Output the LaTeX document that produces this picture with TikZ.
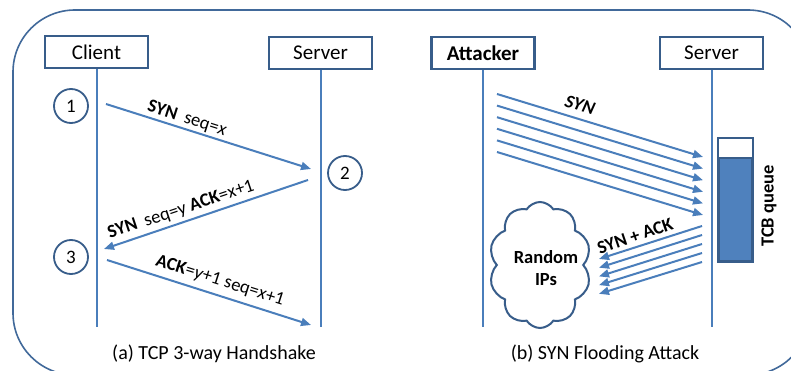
\documentclass[tikz,border=0pt]{standalone}
\usepackage{fontspec}
\setmainfont{Carlito}
\usetikzlibrary{arrows.meta,shapes.symbols}
\definecolor{lineblue}{HTML}{4A7EBB}
\definecolor{boxblue}{HTML}{385D8A}
\definecolor{frameblue}{HTML}{41699A}
\definecolor{queuefill}{HTML}{4F81BD}
\newcommand{\fs}[1]{\fontsize{#1}{#1}\selectfont}
\tikzset{
  actor/.style={draw=boxblue, line width=2.2pt, minimum width=103pt, minimum height=32pt,
    inner sep=0pt, font=\fs{21}},
  lifeline/.style={draw=lineblue, line width=2pt},
  msg/.style={draw=lineblue, line width=2pt, -{Triangle[length=10pt,width=8pt]}},
  stepnum/.style={circle, draw=boxblue, line width=1.8pt, minimum size=34pt, inner sep=0pt,
    font=\fs{19}},
  msglabel/.style={font=\fs{18.5}, inner sep=0pt},
  caption/.style={font=\fs{20}, inner sep=0pt},
}
\begin{document}
\begin{tikzpicture}[x=1pt,y=-1pt]
\useasboundingbox (0,0) rectangle (791,371);
\clip (0,0) rectangle (791,371);
\fill[white] (0,0) rectangle (791,371);

% outer rounded frame
\draw[frameblue, line width=1.6pt, rounded corners=62pt] (13,10) rectangle (810,375);

% ---------- (a) three-way handshake ----------
\node[actor] (client) at (96.5,52) {Client};
\node[actor] (serverA) at (320.5,53) {Server};
\coordinate (clientEnd) at (96.5,327);
\coordinate (serverAEnd) at (320.5,327);
\draw[lifeline] (client.south) -- (clientEnd);
\draw[lifeline] (serverA.south) -- (serverAEnd);

\node[stepnum] (n1) at (71,106) {1};
\node[stepnum] (n2) at (345,173) {2};
\node[stepnum] (n3) at (71,257) {3};

\coordinate (a1s) at (106,104);
\coordinate (a1e) at (311,169);
\coordinate (a2s) at (308,180);
\coordinate (a2e) at (104,249);
\coordinate (a3s) at (107,260);
\coordinate (a3e) at (311,325);
\draw[msg] (a1s) -- (a1e);
\draw[msg] (a2s) -- (a2e);
\draw[msg] (a3s) -- (a3e);

\node[msglabel, rotate=-17.7] (l1) at (187,119) {\textbf{SYN}\hspace{8pt}seq=\textit{x}};
\node[msglabel, rotate=18.5] (l2) at (181,210) {\textbf{SYN}\hspace{8pt}seq=y \textbf{ACK}=x+1};
\node[msglabel, rotate=-17.7] (l3) at (220,281) {\textbf{ACK}=\textit{y}+1 seq=\textit{x}+1};

\node[caption] (capA) at (214,354) {(a) TCP 3-way Handshake};

% ---------- (b) SYN flooding ----------
\node[actor, font=\fs{21}\bfseries] (attacker) at (483,53) {Attacker};
\node[actor] (serverB) at (711.5,53) {Server};
\coordinate (attackerEnd) at (483,327);
\coordinate (serverBEnd) at (711.5,327);
\draw[lifeline] (attacker.south) -- (attackerEnd);
\draw[lifeline] (serverB.south) -- (serverBEnd);

% flood of SYN segments
\foreach \i in {0,...,5}{
  \coordinate (syn\i s) at (497,{94+11.6*\i});
  \coordinate (syn\i e) at (703,{157+11.6*\i});
  \draw[msg] (syn\i s) -- (syn\i e);
}
\node[msglabel, font=\fs{18.5}\bfseries\itshape, rotate=-17] (synlbl) at (580,105) {SYN};

% replies towards spoofed addresses
\foreach \i in {0,...,4}{
  \coordinate (ack\i s) at (702,{226+9*\i});
  \coordinate (ack\i e) at (599,{259+8.7*\i});
  \draw[msg] (ack\i s) -- (ack\i e);
}
\node[msglabel, font=\fs{18.5}\bfseries, rotate=19] (acklbl) at (635,236) {SYN + ACK};

% TCB queue
\node[draw=boxblue, line width=2.2pt, fill=queuefill, minimum width=33pt, minimum height=122pt,
  inner sep=0pt] (queue) at (735.5,200) {};
\fill[white] (queue.north west) rectangle ([yshift=-20pt]queue.north east);
\draw[boxblue, line width=2.2pt] (queue.north west) rectangle (queue.south east);
\draw[boxblue, line width=2.2pt] ([yshift=-20pt]queue.north west) -- ([yshift=-20pt]queue.north east);
\node[msglabel, font=\fs{18.5}\bfseries, rotate=90] (qlbl) at (769,206) {TCB queue};

% spoofed source cloud
\node[cloud, cloud puffs=10, cloud puff arc=115, aspect=0.8, draw=boxblue, line width=2pt,
  minimum width=102pt, minimum height=126pt, inner sep=0pt] (ips) at (540,265) {};
\node[font=\fs{18.5}\bfseries, align=center, inner sep=0pt] (ipsText) at (546,268)
  {Random\\[4pt]IPs};

\node[caption] (capB) at (605,354) {(b) SYN Flooding Attack};
\end{tikzpicture}
\end{document}
